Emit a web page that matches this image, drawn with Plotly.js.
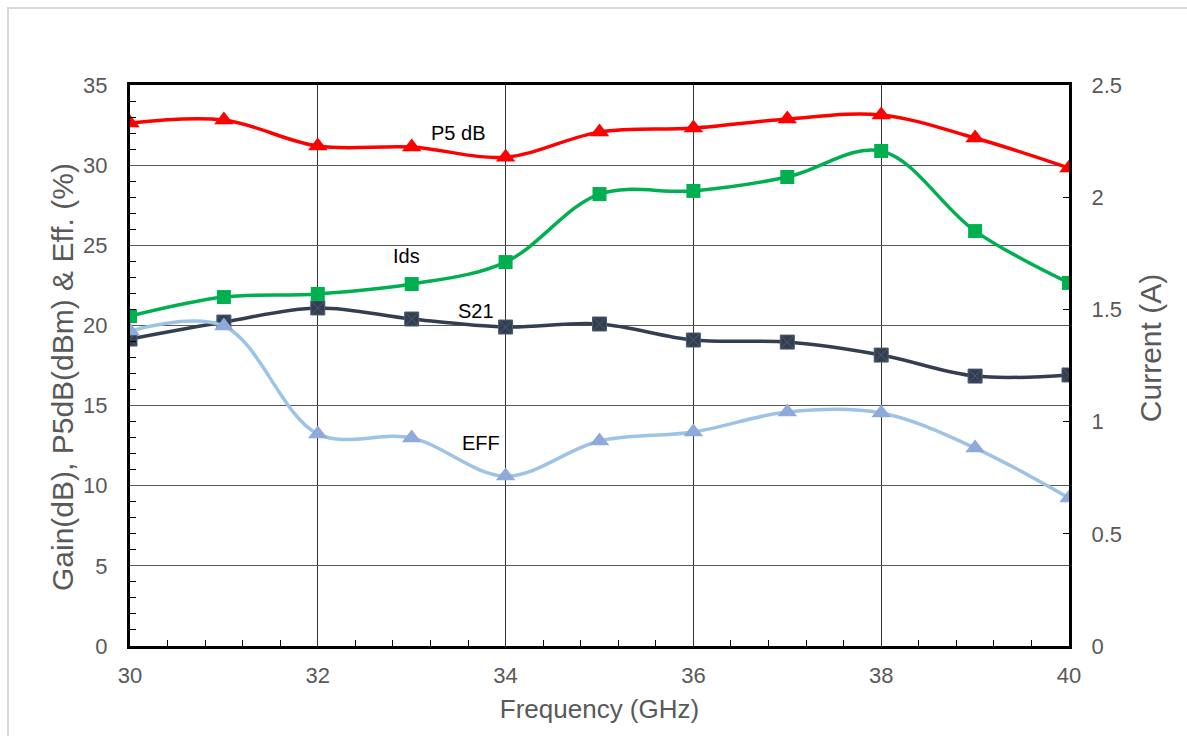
<!DOCTYPE html>
<html>
<head>
<meta charset="utf-8">
<script src="https://cdn.plot.ly/plotly-3.0.1.min.js"></script>
<style>
  html, body { margin: 0; padding: 0; background: #fff; }
  #wrap { position: relative; width: 1187px; height: 736px; overflow: hidden; }
  #frame { position: absolute; left: 7px; top: 7px; width: 1300px; height: 900px; border: 2px solid #d9d9d9; box-sizing: border-box; pointer-events: none; }
  #chart { position: absolute; left: 0; top: 0; width: 1187px; height: 736px; }
</style>
</head>
<body>
<div id="wrap">
  <div id="frame"></div>
  <div id="chart"></div>
</div>
<script>
const freq = [30, 31, 32, 33, 34, 35, 36, 37, 38, 39, 40];
const p5dB = [32.63, 32.81, 31.19, 31.13, 30.5, 32.06, 32.31, 32.88, 33.13, 31.69, 29.82];
const s21  = [19.15, 20.21, 21.09, 20.4, 19.9, 20.09, 19.09, 18.96, 18.15, 16.84, 16.91];
const eff  = [19.65, 19.96, 13.23, 12.98, 10.6, 12.79, 13.35, 14.6, 14.54, 12.35, 9.23];
const ids  = [1.47, 1.555, 1.569, 1.613, 1.711, 2.014, 2.028, 2.09, 2.206, 1.849, 1.618];

const labelNames = ['P5 dB', 'Ids', 'S21', 'EFF'];
const labelX = [33.49, 32.94, 33.68, 33.74];
const labelY = [32.0, 24.33, 20.9, 12.66];

const leftTitle = 'Gain(dB), P5dB(dBm) &amp; Eff. (%)';
const rightTitle = 'Current (A)';
const xTitle = 'Frequency (GHz)';

const FONT = 'Liberation Sans, Arial, sans-serif';
const GREY = '#595959';

const traces = [
  { x: freq, y: s21, name: 'S21', type: 'scatter', mode: 'lines+markers',
    line: { color: '#333f50', width: 3.5, shape: 'spline', smoothing: 1 },
    marker: { symbol: 'square-x', size: 14, color: '#333f50', line: { color: '#4d5b70', width: 1 } } },
  { x: freq, y: eff, name: 'EFF', type: 'scatter', mode: 'lines+markers',
    line: { color: '#9dc3e6', width: 3.5, shape: 'spline', smoothing: 1 },
    marker: { symbol: 'triangle-up', size: 17, color: '#8eaadb' } },
  { x: freq, y: ids, name: 'Ids', type: 'scatter', mode: 'lines+markers', yaxis: 'y2',
    line: { color: '#00b050', width: 3.5, shape: 'spline', smoothing: 1 },
    marker: { symbol: 'square', size: 14, color: '#00b050' } },
  { x: freq, y: p5dB, name: 'P5 dB', type: 'scatter', mode: 'lines+markers',
    line: { color: '#ff0000', width: 3.5, shape: 'spline', smoothing: 1 },
    marker: { symbol: 'triangle-up', size: 17, color: '#ff0000' } }
];

const annotations = labelNames.map((t, i) => ({
  x: labelX[i], y: labelY[i], xref: 'x', yref: 'y', text: t, showarrow: false,
  font: { family: FONT, size: 20, color: '#000000' }
}));
annotations.push({
  x: -0.0724, y: 0.4795, xref: 'paper', yref: 'paper', text: leftTitle, textangle: -90,
  showarrow: false, xanchor: 'center', yanchor: 'middle',
  font: { family: FONT, size: 30, color: GREY }
});
annotations.push({
  x: 1.0863, y: 0.531, xref: 'paper', yref: 'paper', text: rightTitle, textangle: -90,
  showarrow: false, xanchor: 'center', yanchor: 'middle',
  font: { family: FONT, size: 30, color: GREY }
});

const layout = {
  width: 1187, height: 736,
  margin: { l: 130, r: 118, t: 85, b: 90 },
  paper_bgcolor: 'rgba(0,0,0,0)', plot_bgcolor: '#ffffff',
  showlegend: false,
  font: { family: FONT, color: GREY },
  xaxis: {
    range: [30, 40], dtick: 2, tick0: 30,
    showgrid: true, gridcolor: '#333333', gridwidth: 1,
    showline: true, linecolor: '#000000', linewidth: 3, mirror: true,
    ticks: '', zeroline: false,
    minor: { dtick: 0.4, tick0: 30, ticks: 'inside', ticklen: 6, tickcolor: '#000000', tickwidth: 1, showgrid: false },
    tickfont: { family: FONT, size: 22, color: GREY },
    ticklabelstandoff: 8,
    title: { text: xTitle, font: { family: FONT, size: 26, color: GREY }, standoff: 13 }
  },
  yaxis: {
    range: [0, 35], dtick: 5, tick0: 0,
    showgrid: true, gridcolor: '#595959', gridwidth: 1,
    showline: true, linecolor: '#000000', linewidth: 3, mirror: true,
    ticks: '', zeroline: false,
    minor: { dtick: 1, tick0: 0, ticks: 'inside', ticklen: 6, tickcolor: '#000000', tickwidth: 1, showgrid: false },
    tickfont: { family: FONT, size: 22, color: GREY },
    ticklabelstandoff: 15
  },
  yaxis2: {
    overlaying: 'y', side: 'right', range: [0, 2.5], dtick: 0.5, tick0: 0,
    showgrid: false, zeroline: false,
    showline: true, linecolor: '#000000', linewidth: 3,
    ticks: 'inside', ticklen: 6, tickcolor: '#000000', tickwidth: 1,
    tickfont: { family: FONT, size: 22, color: GREY },
    ticklabelstandoff: 15
  },
  annotations: annotations
};

Plotly.newPlot('chart', traces, layout, { displayModeBar: false, staticPlot: true });
</script>
</body>
</html>
